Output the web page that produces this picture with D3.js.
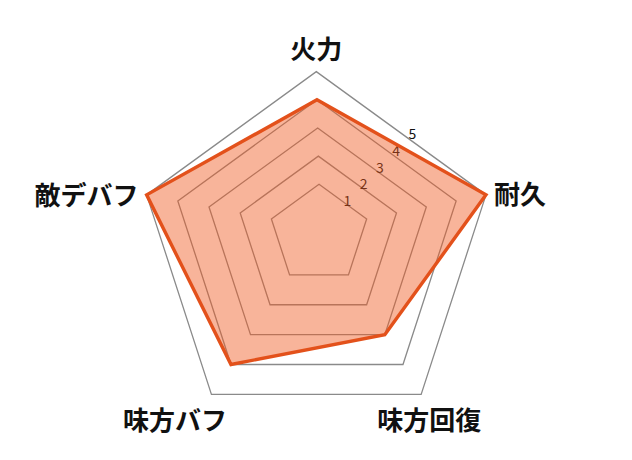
<!DOCTYPE html>
<html>
<head>
<meta charset="utf-8">
<script src="https://cdn.jsdelivr.net/npm/d3@7"></script>
<style>
  html, body { margin: 0; padding: 0; background: #fff; }
  .radar text { font-family: "Noto Sans CJK JP", "Noto Sans", sans-serif; }
</style>
</head>
<body>
<div class="radar"></div>
<script>
// chart data
const categories = ['火力', '耐久', '味方回復', '味方バフ', '敵デバフ'];
const values = [4, 5, 3, 4, 5];
const tickLevels = [1, 2, 3, 4, 5];

const width = 632;
const height = 460;
const maxValue = 5;

// the source picture is drawn in slight perspective: rings drift and grow
const r = d3.scaleLinear().domain([0, maxValue]).range([18, 178.4]);
const cx = d3.scaleLinear().domain([0, maxValue]).range([319.7, 316.3]);
const cy = d3.scaleLinear().domain([0, maxValue]).range([230.5, 250]);

const angle = d3.scaleLinear()
  .domain([0, categories.length])
  .range([-Math.PI / 2, (3 * Math.PI) / 2]);

const point = (v, i) => [
  cx(v) + r(v) * Math.cos(angle(i)),
  cy(v) + r(v) * Math.sin(angle(i)),
];

const svg = d3
  .select('.radar')
  .append('svg')
  .attr('width', width)
  .attr('height', height);

const line = d3.line().curve(d3.curveLinearClosed);

// grid rings
svg
  .append('g')
  .selectAll('path')
  .data(tickLevels)
  .enter()
  .append('path')
  .attr('d', (k) => line(categories.map((c, i) => point(k, i))))
  .style('fill', 'none')
  .style('stroke', '#8a8a8a')
  .style('stroke-width', 1.3);

// tick labels, along the upper right side
const tickAngle = (39.5 * Math.PI) / 180;
svg
  .append('g')
  .selectAll('text')
  .data(tickLevels)
  .enter()
  .append('text')
  .attr('x', (k) => cx(k) + (0.83 * r(k) + 3) * Math.sin(tickAngle))
  .attr('y', (k) => cy(k) - (0.83 * r(k) + 3) * Math.cos(tickAngle))
  .attr('text-anchor', 'middle')
  .attr('dominant-baseline', 'central')
  .style('font-size', '14px')
  .style('fill', '#111')
  .text((k) => k);

// data area
svg
  .append('path')
  .attr('d', line(values.map((v, i) => point(v, i))))
  .style('fill', '#f0581e')
  .style('fill-opacity', 0.45)
  .style('stroke', '#e3511b')
  .style('stroke-width', 3.4)
  .style('stroke-linejoin', 'miter');

// category labels
const labelPlace = [
  { dx: 0, dy: -24, anchor: 'middle' },
  { dx: 8, dy: -2, anchor: 'start' },
  { dx: 8, dy: 24, anchor: 'middle' },
  { dx: -36.5, dy: 24, anchor: 'middle' },
  { dx: -8, dy: -1.5, anchor: 'end' },
];

svg
  .append('g')
  .selectAll('text')
  .data(categories)
  .enter()
  .append('text')
  .attr('x', (d, i) => point(maxValue, i)[0] + labelPlace[i].dx)
  .attr('y', (d, i) => point(maxValue, i)[1] + labelPlace[i].dy)
  .attr('text-anchor', (d, i) => labelPlace[i].anchor)
  .attr('dominant-baseline', 'central')
  .style('font-size', '26px')
  .style('font-weight', 'bold')
  .style('fill', '#111')
  .text((d) => d);
</script>
</body>
</html>
